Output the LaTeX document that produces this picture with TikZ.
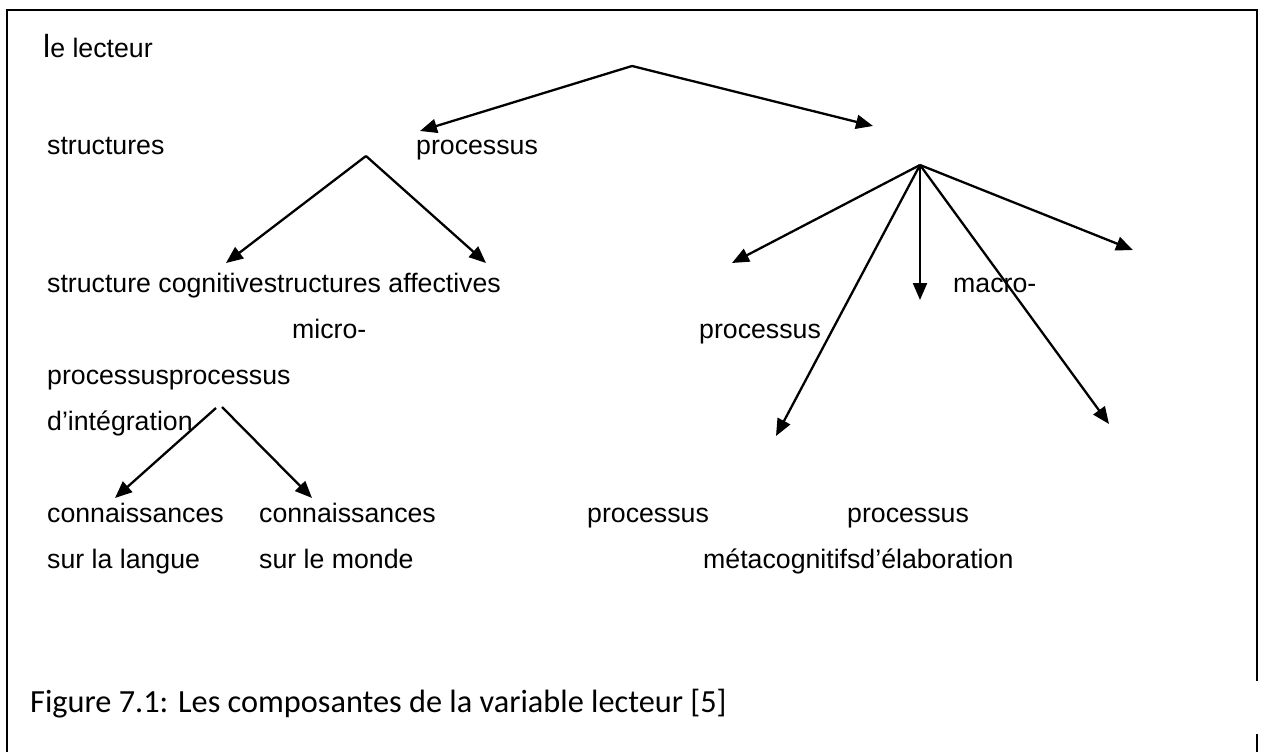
\documentclass[tikz,border=0pt]{standalone}
\usepackage{fontspec}
\setmainfont{Liberation Sans}
\newfontfamily\capfont{Carlito}
\usetikzlibrary{arrows.meta}

\begin{document}
\begin{tikzpicture}[x=1pt,y=-1pt,
  lbl/.style={anchor=base west, inner sep=0pt, font=\fontsize{26.7}{32}\selectfont},
  caption/.style={anchor=base west, inner sep=0pt, font=\capfont\fontsize{32.3}{38}\selectfont},
  arr/.style={line width=2.3pt, -{Triangle[length=17pt,width=14pt]}},
  frame/.style={line width=2.2pt}]
\useasboundingbox (0,0) rectangle (1264,752);

% outer frame (open at the bottom, with a break on the right)
\draw[frame] (7,752) -- (7,10) -- (1257,10) -- (1257,681);
\draw[frame] (1257,734) -- (1257,752);

% labels
\node[lbl] (lecteur) at (43,58) {{\fontsize{32}{32}\selectfont l}e lecteur};
\node[lbl] (structures) at (47,154) {structures};
\node[lbl] (processus) at (416,154) {processus};
\node[lbl] (cogaff) at (47,292) {structure cognitivestructures affectives};
\node[lbl] (macro) at (953,292) {macro-};
\node[lbl] (micro) at (292,338) {micro-};
\node[lbl] (procR) at (699,338) {processus};
\node[lbl] (procproc) at (47,384) {processusprocessus};
\node[lbl] (integ) at (47,430) {d’intégration};
\node[lbl] (conn1) at (47,522) {connaissances};
\node[lbl] (conn2) at (259,522) {connaissances};
\node[lbl] (procB1) at (587,522) {processus};
\node[lbl] (procB2) at (847,522) {processus};
\node[lbl] (langue) at (47,568) {sur la langue};
\node[lbl] (monde) at (259,568) {sur le monde};
\node[lbl] (metael) at (703,568) {métacognitifsd’élaboration};
\node[caption] (cap) at (30,712) {Figure 7.1: Les composantes de la variable lecteur [5]};

% branching points and arrow ends
\coordinate (top) at (632,66);
\coordinate (topL) at (420,131);
\coordinate (topR) at (873,126);

\coordinate (sroot) at (366,156);
\coordinate (sL) at (226,263);
\coordinate (sR) at (486,263);

\coordinate (proot) at (920,165);
\coordinate (pA) at (732,263);
\coordinate (pB) at (776,436);
\coordinate (pC) at (920,300);
\coordinate (pD) at (1109,424);
\coordinate (pE) at (1133,250);

\coordinate (cL0) at (216,408);
\coordinate (cR0) at (222,407);
\coordinate (cL) at (115,498);
\coordinate (cR) at (312,498);

% connectors
\draw[arr] (top) -- (topL);
\draw[arr] (top) -- (topR);

\draw[arr] (sroot) -- (sL);
\draw[arr] (sroot) -- (sR);

\draw[arr] (proot) -- (pA);
\draw[arr] (proot) -- (pB);
\draw[arr] (proot) -- (pC);
\draw[arr] (proot) -- (pD);
\draw[arr] (proot) -- (pE);

\draw[arr] (cL0) -- (cL);
\draw[arr] (cR0) -- (cR);
\end{tikzpicture}
\end{document}
